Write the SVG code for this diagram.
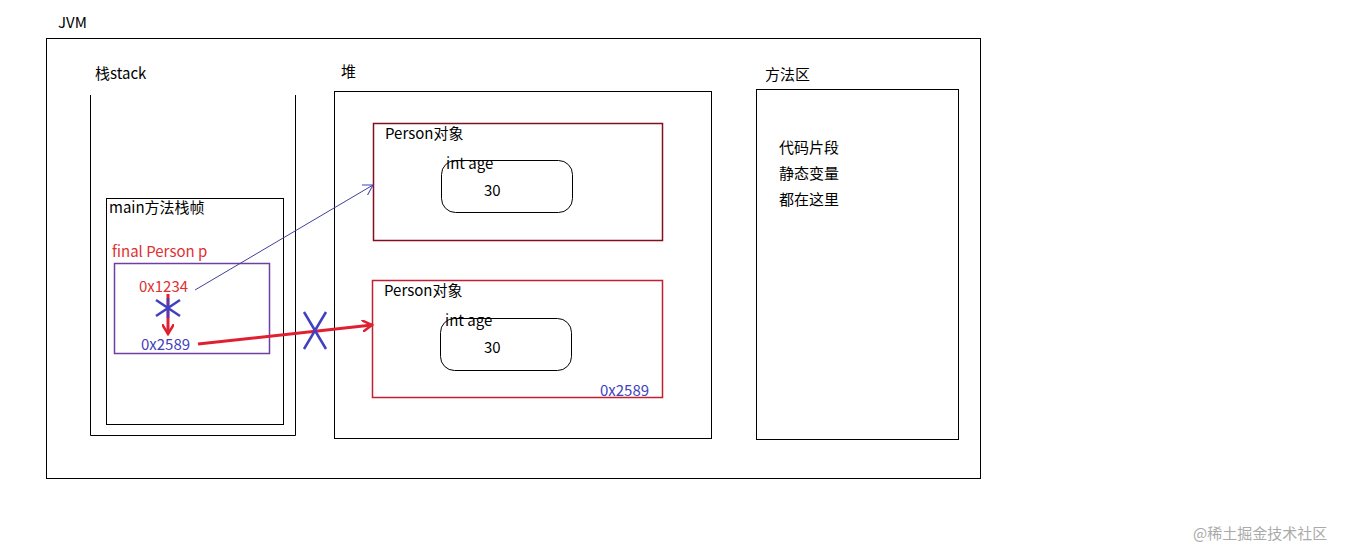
<svg xmlns="http://www.w3.org/2000/svg" width="1359" height="549" viewBox="0 0 1359 549">
<style>
text{font-family:"Microsoft YaHei","Noto Sans CJK SC",sans-serif;font-size:15px;fill:#000}
.box{fill:none;stroke:#000;stroke-width:1}
.red{fill:#e03030}.blue{fill:#4040c0}
</style>
<defs>
<marker id="ah" markerWidth="12" markerHeight="12" refX="10" refY="6" orient="auto" markerUnits="userSpaceOnUse"><path d="M0,0 L10,6 L0,12" fill="none" stroke="#e02030" stroke-width="2.5"/></marker>
<marker id="ab" markerWidth="12" markerHeight="12" refX="10" refY="6" orient="auto" markerUnits="userSpaceOnUse"><path d="M0,0 L10,6 L0,12" fill="none" stroke="#4040c0" stroke-width="1"/></marker>
</defs>
<rect width="1359" height="549" fill="#fff"/>
<g id="jvm"><rect class="box" x="46.5" y="38.5" width="934" height="440"/><text x="58" y="28">JVM</text></g>
<g id="stack"><path class="box" d="M90.5,95 V435.5 H295.5 V95"/><text x="95" y="79">栈stack</text></g>
<g id="frame"><rect class="box" x="106.5" y="198.5" width="177" height="226"/><text x="109" y="213">main方法栈帧</text>
<text x="112" y="257" class="red" font-size="16">final Person p</text>
<rect x="114.5" y="263.5" width="155" height="90" fill="none" stroke="#7040a0" stroke-width="1.5"/>
<text x="139" y="292" class="red">0x1234</text><text x="141" y="350" class="blue">0x2589</text></g>
<g id="heap"><rect class="box" x="334.5" y="91.5" width="377" height="347"/><text x="341" y="77">堆</text></g>
<g id="obj1"><rect x="373.5" y="123.5" width="289" height="117" fill="none" stroke="#801020" stroke-width="1.5"/><text x="385" y="139">Person对象</text>
<rect class="box" x="441.5" y="160.5" width="131" height="52" rx="14"/><text x="446" y="169">int age</text><text x="484" y="196">30</text></g>
<g id="obj2"><rect x="372.5" y="280.5" width="290" height="117" fill="none" stroke="#c02030" stroke-width="1.5"/><text x="384" y="296">Person对象</text>
<rect class="box" x="440.5" y="318.5" width="131" height="52" rx="14"/><text x="445" y="326">int age</text><text x="484" y="353">30</text>
<text x="600" y="396" class="blue">0x2589</text></g>
<g id="method"><rect class="box" x="756.5" y="89.5" width="202" height="350"/><text x="765" y="80">方法区</text>
<text x="779" y="153">代码片段</text><text x="779" y="179">静态变量</text><text x="779" y="205">都在这里</text></g>
<g id="connectors">
<line x1="195" y1="290" x2="373" y2="185" stroke="#4040a0" stroke-width="1" marker-end="url(#ab)"/>
<line x1="198" y1="344" x2="372" y2="325" stroke="#e02030" stroke-width="3" marker-end="url(#ah)"/>
<line x1="168" y1="294" x2="168" y2="334" stroke="#e02030" stroke-width="3" marker-end="url(#ah)"/>
<path d="M156,300 L180,316 M180,300 L156,316 M168,298 V318" stroke="#4040c0" stroke-width="2.5" fill="none"/>
<path d="M304,312 L326,349 M326,312 L304,349" stroke="#4040c0" stroke-width="2.5" fill="none"/>
</g>
<text x="1193" y="539" font-size="19" style="fill:#aaa">@稀土掘金技术社区</text>
</svg>
